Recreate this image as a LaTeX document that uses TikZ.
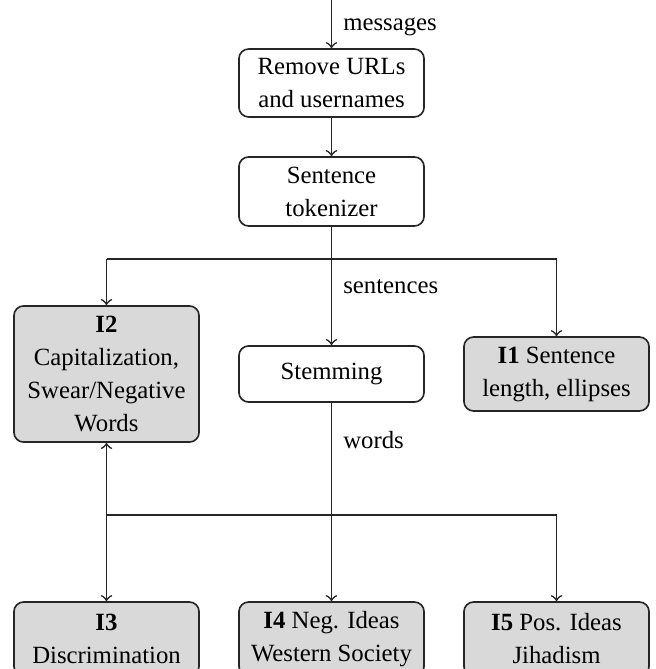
\documentclass[tikz,border=0pt]{standalone}
\usepackage{fontspec}
\setmainfont{Liberation Serif}
\begin{document}
\begin{tikzpicture}[x=0.3636pt,y=-0.3636pt,
  every node/.style={font=\fontsize{9}{12}\selectfont},
  proc/.style={draw=black!85, line width=0.6pt, rounded corners=3.5pt, align=center,
    minimum width=67.3pt, inner xsep=1pt, inner ysep=0pt},
  feat/.style={proc, fill=black!15},
  conn/.style={draw=black!85, line width=0.6pt},
  arr/.style={conn, ->},
  lbl/.style={right, xshift=1pt, inner sep=3pt}]
\useasboundingbox (0,0) rectangle (656,669);
% nodes
\node[proc, minimum height=24.7pt] (b1) at (331.5,83) {Remove URLs\\and usernames};
\node[proc, minimum height=25.1pt] (b2) at (331.5,191.5) {Sentence\\tokenizer};
\node[feat, minimum height=49.5pt] (i2) at (106.5,374) {\textbf{I2}\\Capitalization,\\Swear/Negative\\Words};
\node[proc, minimum height=20.4pt] (stem) at (331.5,374) {Stemming};
\node[feat, minimum height=26.9pt] (i1) at (556.5,374) {\textbf{I1} Sentence\\length, ellipses};
\node[feat, minimum height=26.9pt] (i3) at (106.5,639) {\textbf{I3}\\Discrimination};
\node[feat, minimum height=26.9pt] (i4) at (331.5,639) {\textbf{I4} Neg. Ideas\\Western Society};
\node[feat, minimum height=26.9pt] (i5) at (556.5,639) {\textbf{I5} Pos. Ideas\\Jihadism};
% junctions
\coordinate (in) at (331.5,0);
\coordinate (j1) at (331.5,259);
\coordinate (jl1) at (106.5,259);
\coordinate (jr1) at (556.5,259);
\coordinate (jl2) at (106.5,515);
\coordinate (jr2) at (556.5,515);
% connectors
\draw[arr] (in) -- node[lbl, pos=0.55] {messages} (b1);
\draw[arr] (b1) -- (b2);
\draw[conn] (b2) -- (j1);
\draw[conn] (jl1) -- (jr1);
\draw[arr] (jl1) -- (i2);
\draw[arr] (jr1) -- (i1);
\draw[arr] (j1) -- node[lbl, pos=0.32] {sentences} (stem);
\draw[arr] (stem) -- node[lbl, pos=0.185] {words} (i4);
\draw[conn] (jl2) -- (jr2);
\draw[arr] (jl2) -- (i2);
\draw[arr] (jl2) -- (i3);
\draw[arr] (jr2) -- (i5);
\end{tikzpicture}
\end{document}
